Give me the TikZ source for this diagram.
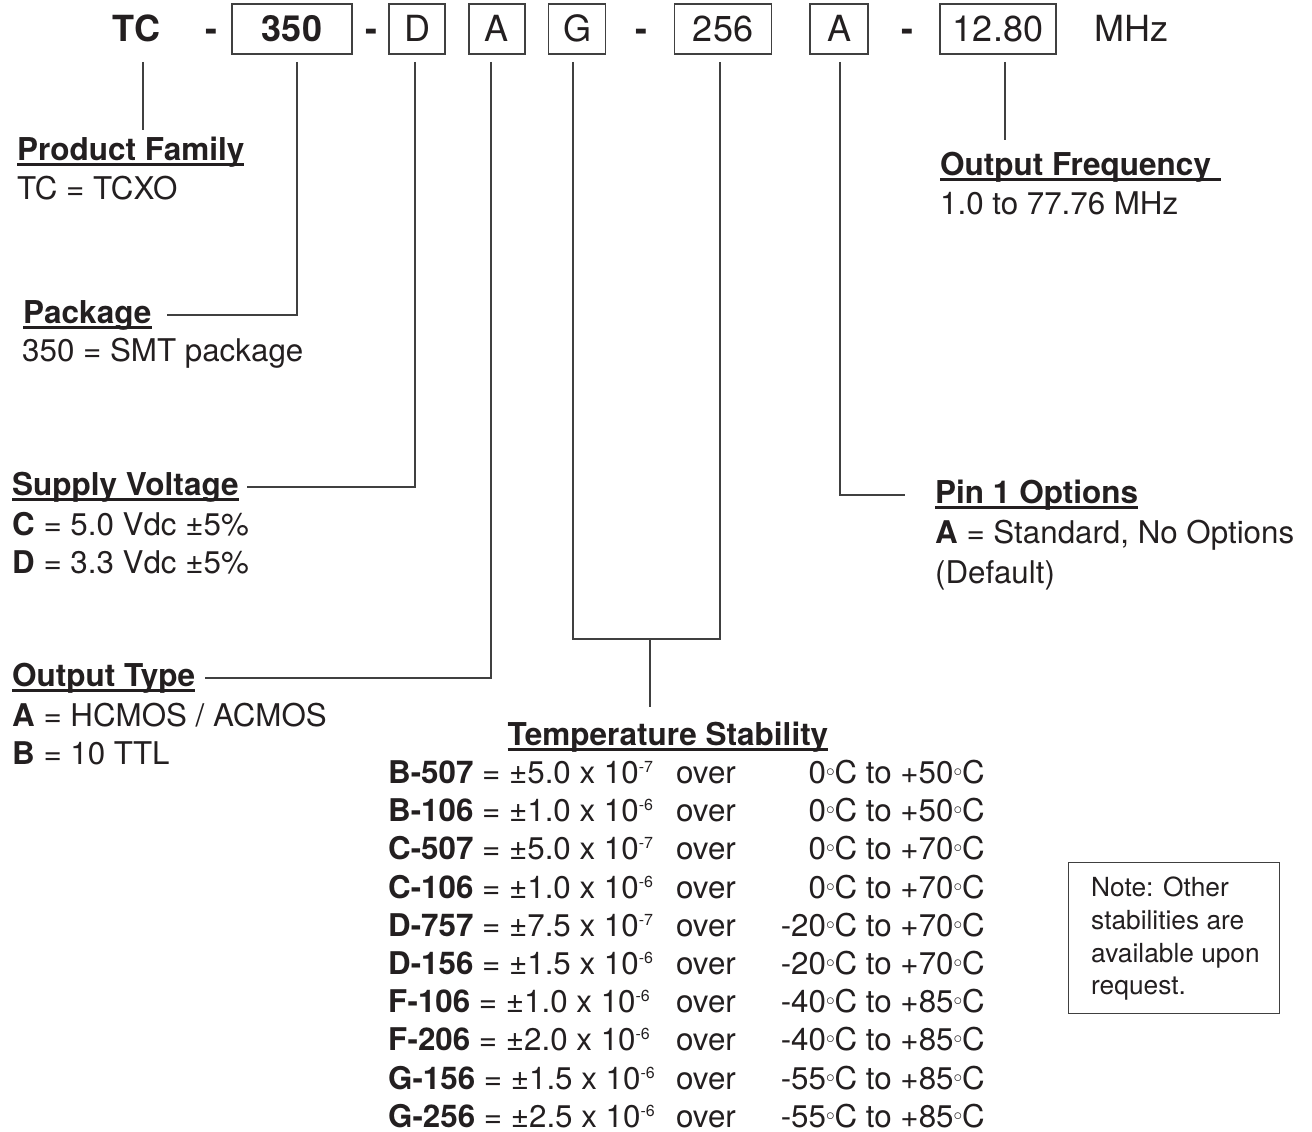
\documentclass[tikz,border=0pt]{standalone}
\usepackage{fontspec}
\setmainfont{TeX Gyre Heros}
\usepackage{graphicx}
\usetikzlibrary{calc}
\definecolor{ink}{HTML}{231F20}
\definecolor{rule}{HTML}{404040}
\newcommand{\degc}{\raisebox{7pt}{\fontsize{19}{19}\selectfont$\circ$}}
\newcommand{\sups}[1]{\raisebox{11pt}{\fontsize{16}{16}\selectfont #1}}
\newcommand{\ulin}[2][0]{\draw[uline] ($(#2.base west)+(0,4.5)$) -- ($(#2.base east)+(#1,4.5)$);}
\begin{document}
\begin{tikzpicture}[x=1pt,y=-1pt,
  txt/.style={inner sep=0pt, anchor=base west, text=ink, font=\fontsize{31.3}{38}\selectfont},
  hdr/.style={txt, font=\fontsize{31.5}{38}\selectfont\bfseries, text height=22.6pt, text depth=6.6pt},
  rowtxt/.style={txt, text depth=0pt},
  codebox/.style={draw=rule, line width=1.3pt, inner sep=0pt, minimum height=50pt,
     text height=26pt, text depth=0pt, text=ink, font=\fontsize{36}{36}\selectfont},
  topword/.style={inner sep=0pt, anchor=base, text=ink, font=\fontsize{36}{36}\selectfont},
  link/.style={draw=rule, line width=1.6pt},
  uline/.style={draw=ink, line width=2.2pt},
  notebox/.style={draw=rule, line width=1.3pt, minimum width=211pt, minimum height=151pt, inner sep=0pt},
  notetxt/.style={inner sep=0pt, anchor=north west, align=left, text=ink, font=\fontsize{26.3}{32.7}\selectfont}
]
\useasboundingbox (0,0) rectangle (1312,1132);

% ---- top code row ----
\node[topword, font=\fontsize{36}{36}\selectfont\bfseries] (tc) at (136.5,42) {TC};
\node[topword, font=\fontsize{36}{36}\selectfont\bfseries] (d1) at (211,42) {-};
\node[codebox, minimum width=120pt, font=\fontsize{36}{36}\selectfont\bfseries] (b350) at (292,29) {350};
\node[topword, font=\fontsize{36}{36}\selectfont\bfseries] (d2) at (371,42) {-};
\node[codebox, minimum width=56pt] (bD) at (417,29) {D};
\node[codebox, minimum width=56pt] (bA) at (497,29) {A};
\node[codebox, minimum width=57pt] (bG) at (577,29) {G};
\node[topword, font=\fontsize{36}{36}\selectfont\bfseries] (d3) at (641,42) {-};
\node[codebox, minimum width=97pt] (b256) at (723,29) {256};
\node[codebox, minimum width=58pt] (bA2) at (839,29) {A};
\node[topword, font=\fontsize{36}{36}\selectfont\bfseries] (d4) at (907,42) {-};
\node[codebox, minimum width=116pt] (b1280) at (998,29) {12.80};
\node[topword, anchor=base west] (mhz) at (1094,42) {MHz};

% connector tops
\coordinate (tTC) at (143,62);
\coordinate (t350) at (297,62);
\coordinate (tD) at (415,62);
\coordinate (tA) at (491,62);
\coordinate (tG) at (573,62);
\coordinate (t256) at (720,62);
\coordinate (tA2) at (840,62);
\coordinate (t1280) at (1005,62);
\coordinate (brk) at (650,639);

% ---- labels ----
\node[hdr] (pf) at (17,160) {Product Family};
\node[txt] (pfv) at (17,199) {TC = TCXO};

\node[hdr] (pkg) at (23,323) {Package};
\node[txt] (pkgv) at (22,361) {350 = SMT package};

\node[hdr] (sv) at (12,495) {Supply Voltage};
\node[txt] (sv1) at (12,535) {\textbf{C} = 5.0 Vdc ±5\%};
\node[txt] (sv2) at (12,573) {\textbf{D} = 3.3 Vdc ±5\%};

\node[hdr] (ot) at (12,686) {Output Type};
\node[txt] (ot1) at (12,726) {\textbf{A} = HCMOS / ACMOS};
\node[txt] (ot2) at (12,764) {\textbf{B} = 10 TTL};

\node[hdr] (pin) at (935,503) {Pin 1 Options};
\node[txt] (pin1) at (935,543) {\textbf{A} = Standard, No Options};
\node[txt] (pin2) at (935,583) {(Default)};

\node[hdr] (of) at (940,175) {Output Frequency};
\node[txt] (ofv) at (940,214) {1.0 to 77.76 MHz};

\node[hdr, anchor=base] (ts) at (668,745) {Temperature Stability};

\foreach \code/\val/\rex/\lo/\hi [count=\i from 0] in
 {B-507/5.0/7/0/50, B-106/1.0/6/0/50, C-507/5.0/7/0/70, C-106/1.0/6/0/70,
  D-757/7.5/7/-20/70, D-156/1.5/6/-20/70, F-106/1.0/6/-40/85, F-206/2.0/6/-40/85,
  G-156/1.5/6/-55/85, G-256/2.5/6/-55/85}{
  \node[rowtxt] (rc\i) at (388,783.5+38.2*\i) {\textbf{\code} = ±\val{} x 10\sups{-\rex}};
  \node[rowtxt] (ro\i) at (676,783.5+38.2*\i) {over};
  \node[rowtxt, anchor=base east] (rt\i) at (985,783.5+38.2*\i) {\lo\degc C to +\hi\degc C};
}

\node[notebox, anchor=north west] (note) at (1068,862) {};
\node[notetxt] (notet) at (1091,877) {Note: Other\\stabilities are\\available upon\\request.};

% underlines
\ulin{pf}
\ulin{pkg}
\ulin{sv}
\ulin{ot}
\ulin{pin}
\ulin[10]{of}
\ulin{ts}

% ---- connectors ----
\draw[link] (tTC) -- ($(tTC |- pf.north)+(0,-7)$);
\draw[link] (t350) |- ($(pkg.east)+(15,0)$);
\draw[link] (tD) |- ($(sv.east)+(8,0)$);
\draw[link] (tA) |- ($(ot.east)+(10,0)$);
\draw[link] (tG) |- (brk) -| (t256);
\draw[link] (brk) -- ($(brk |- ts.north)+(0,-15)$);
\draw[link] (tA2) |- ($(pin.west)+(-30,0)$);
\draw[link] (t1280) -- ($(t1280 |- of.north)+(0,-12)$);
\end{tikzpicture}
\end{document}
